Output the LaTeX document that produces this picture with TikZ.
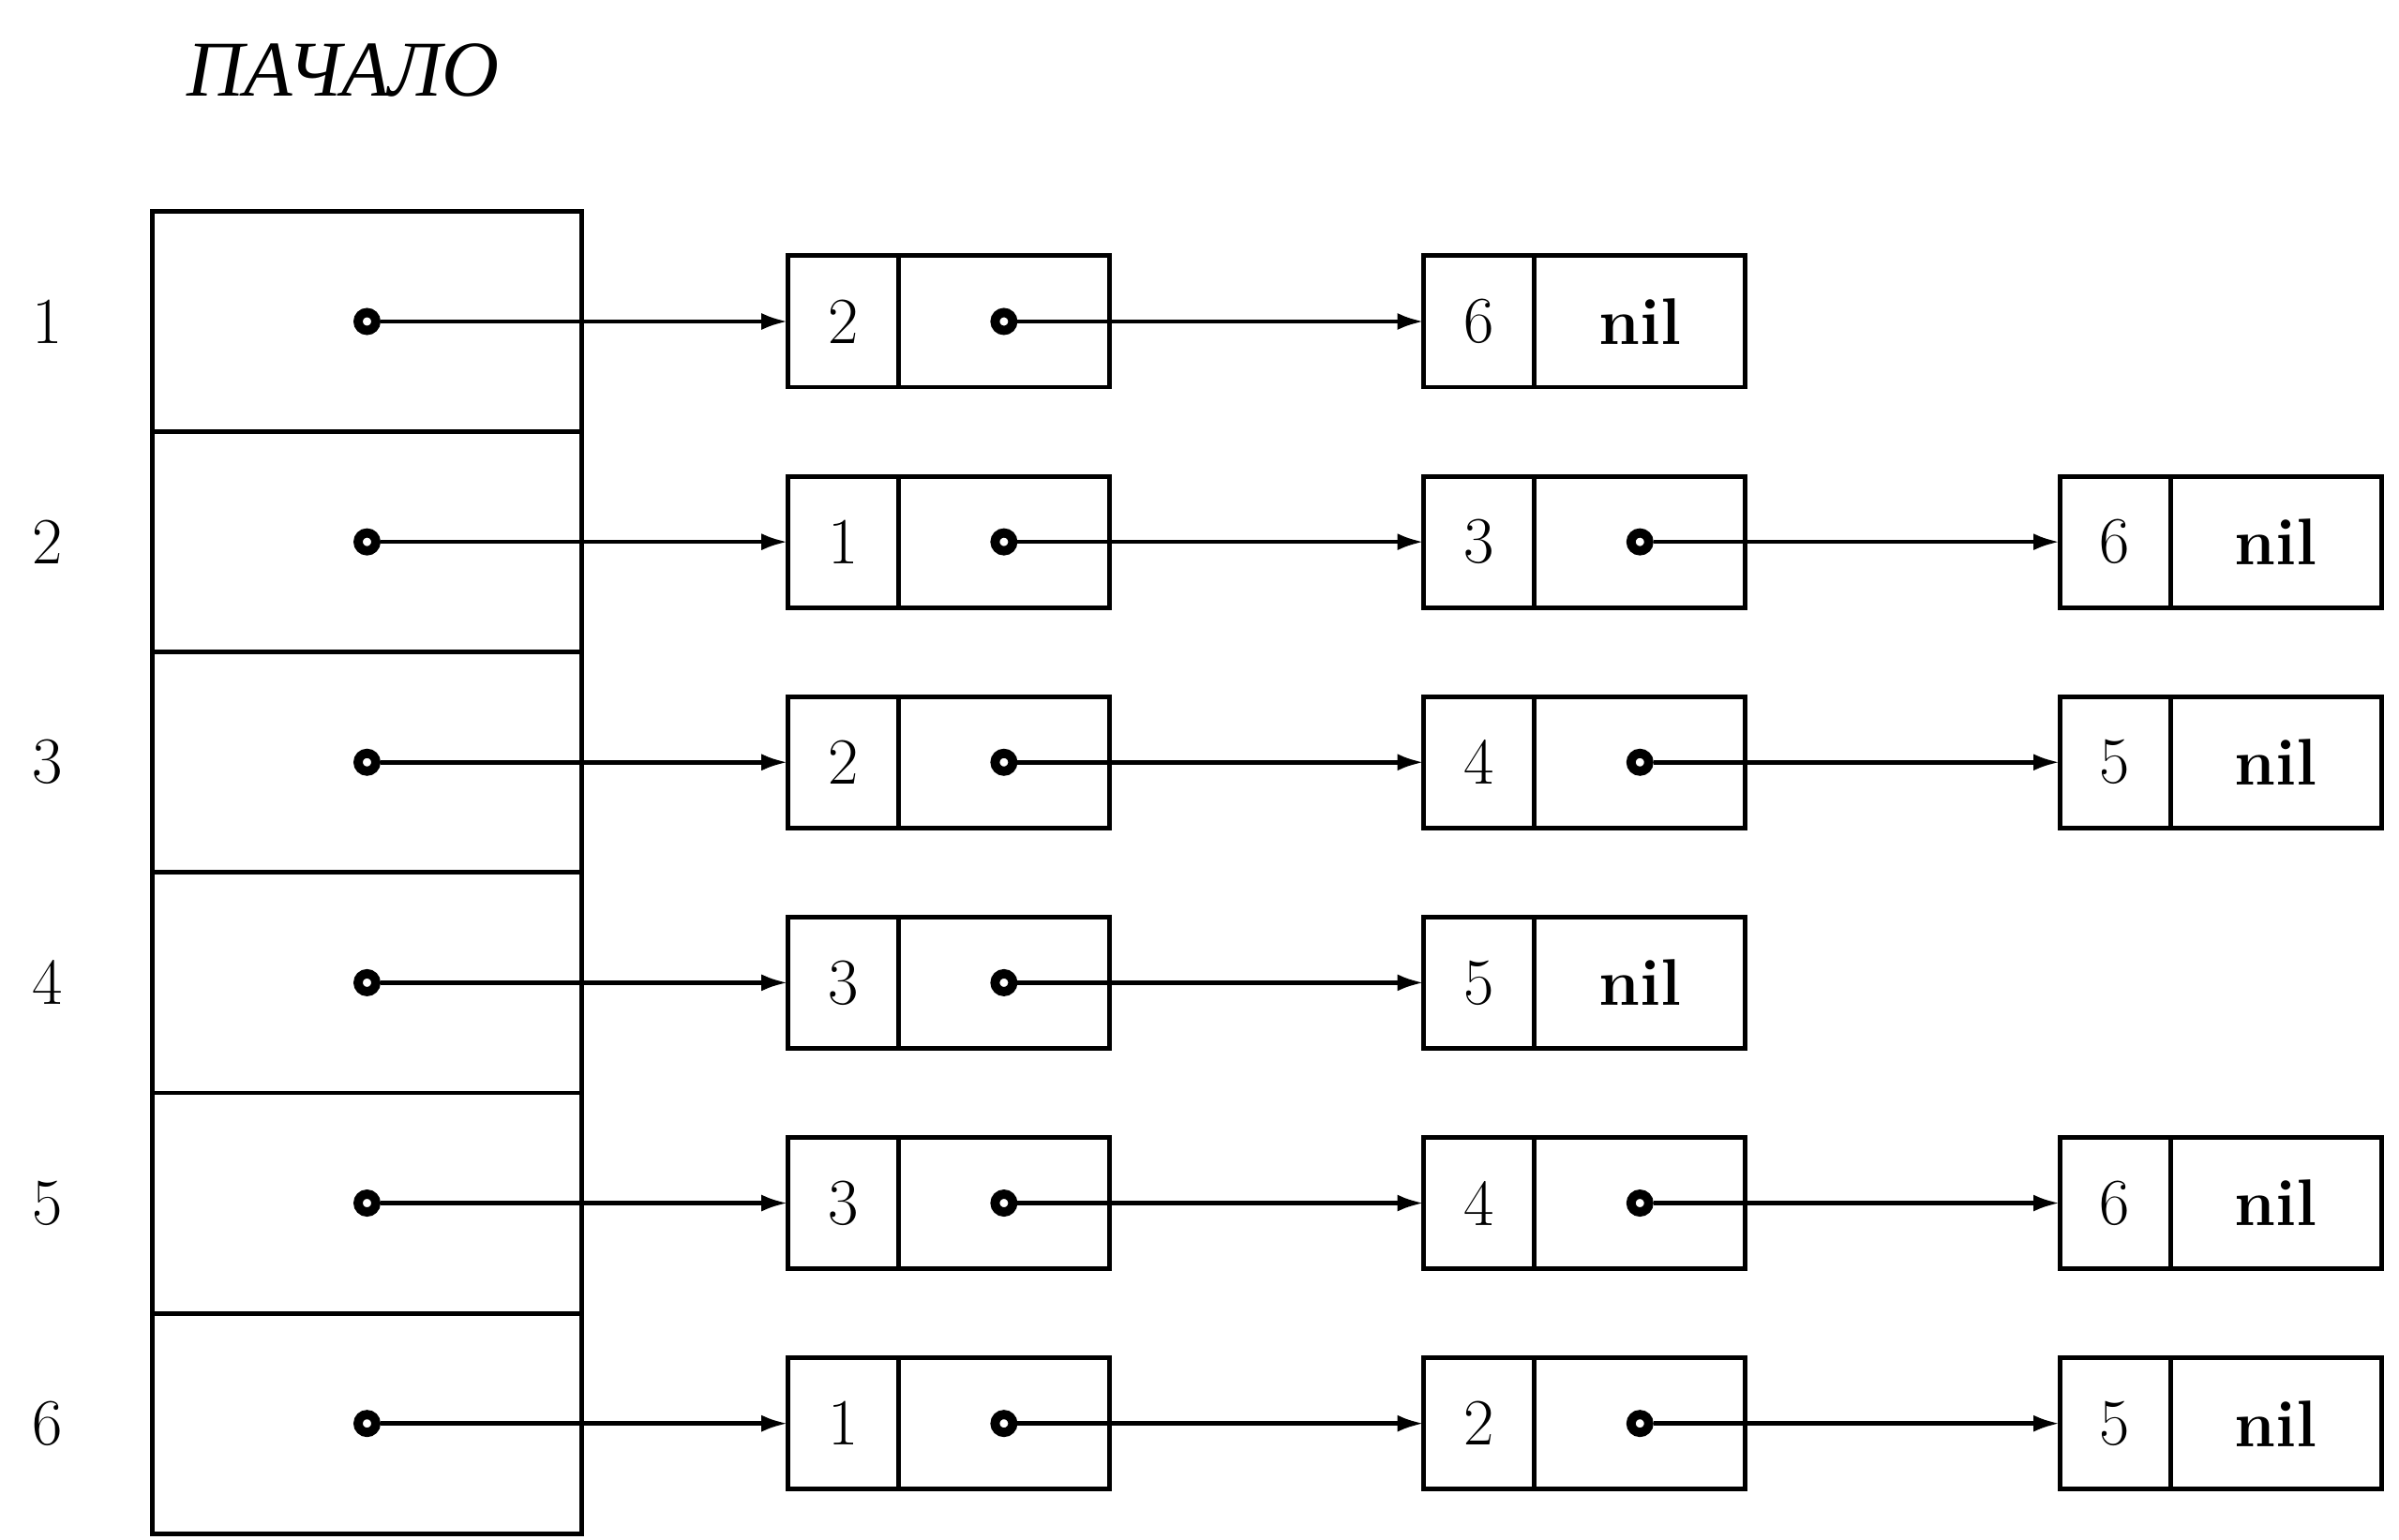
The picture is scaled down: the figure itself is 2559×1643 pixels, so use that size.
\documentclass[tikz,border=0pt]{standalone}
\usepackage{fontspec}
\newfontfamily\cyrfont{Liberation Serif}
\usepackage{tikz}
\usetikzlibrary{arrows.meta,positioning}

\begin{document}
\begin{tikzpicture}[
	x=0.01cm, y=-0.01cm,
	font=\fontsize{20}{24}\selectfont,
	>={Latex[length=0.28cm,width=0.18cm]},
	node distance=0pt,
	lin/.style={rectangle, draw, line width=1.4pt, minimum width=4.57cm, minimum height=2.35cm, inner sep=0pt, outer sep=0pt},
	cel/.style={rectangle, draw, line width=1.4pt, minimum width=1.18cm, minimum height=1.4cm, inner sep=0pt, outer sep=0pt},
	ptr/.style={cel, minimum width=2.25cm},
	pto/.style={circle, draw, line width=2.8pt, fill=white, inner sep=0pt, minimum size=0.19cm},
	lig/.style={->, line width=1.3pt},
	num/.style={inner sep=0pt},
	tit/.style={font=\fontsize{24}{28}\selectfont\cyrfont\itshape},
]
\useasboundingbox (0,0) rectangle (2559,1643);
% Titulo
\node[tit] (tit) at (366,75) {ПАЧАЛО};
% Vetor de entradas
\node[lin] (r1) at (391.5,343) {};
\node[lin] (r2) [below=of r1] {};
\node[lin] (r3) [below=of r2] {};
\node[lin] (r4) [below=of r3] {};
\node[lin] (r5) [below=of r4] {};
\node[lin] (r6) [below=of r5] {};
\node[num] (n1) [left=0.95cm of r1] {1};
\node[num] (n2) [left=0.95cm of r2] {2};
\node[num] (n3) [left=0.95cm of r3] {3};
\node[num] (n4) [left=0.95cm of r4] {4};
\node[num] (n5) [left=0.95cm of r5] {5};
\node[num] (n6) [left=0.95cm of r6] {6};
\node[pto] (p1) at (r1.center) {};
\node[pto] (p2) at (r2.center) {};
\node[pto] (p3) at (r3.center) {};
\node[pto] (p4) at (r4.center) {};
\node[pto] (p5) at (r5.center) {};
\node[pto] (p6) at (r6.center) {};
% Linha 1
\node[cel] (a1) [right=2.2cm of r1] {2};
\node[ptr] (a1p) [right=of a1] {};
\node[pto] (q1) at (a1p.center) {};
\node[cel] (b1) [right=3.35cm of a1p] {6};
\node[ptr] (b1p) [right=of b1] {\textbf{nil}};
\draw[lig] (p1)--(a1); \draw[lig] (q1)--(b1);
% Linha 2
\node[cel] (a2) [right=2.2cm of r2] {1};
\node[ptr] (a2p) [right=of a2] {};
\node[pto] (q2) at (a2p.center) {};
\node[cel] (b2) [right=3.35cm of a2p] {3};
\node[ptr] (b2p) [right=of b2] {};
\node[pto] (s2) at (b2p.center) {};
\node[cel] (c2) [right=3.35cm of b2p] {6};
\node[ptr] (c2p) [right=of c2] {\textbf{nil}};
\draw[lig] (p2)--(a2); \draw[lig] (q2)--(b2); \draw[lig] (s2)--(c2);
% Linha 3
\node[cel] (a3) [right=2.2cm of r3] {2};
\node[ptr] (a3p) [right=of a3] {};
\node[pto] (q3) at (a3p.center) {};
\node[cel] (b3) [right=3.35cm of a3p] {4};
\node[ptr] (b3p) [right=of b3] {};
\node[pto] (s3) at (b3p.center) {};
\node[cel] (c3) [right=3.35cm of b3p] {5};
\node[ptr] (c3p) [right=of c3] {\textbf{nil}};
\draw[lig] (p3)--(a3); \draw[lig] (q3)--(b3); \draw[lig] (s3)--(c3);
% Linha 4
\node[cel] (a4) [right=2.2cm of r4] {3};
\node[ptr] (a4p) [right=of a4] {};
\node[pto] (q4) at (a4p.center) {};
\node[cel] (b4) [right=3.35cm of a4p] {5};
\node[ptr] (b4p) [right=of b4] {\textbf{nil}};
\draw[lig] (p4)--(a4); \draw[lig] (q4)--(b4);
% Linha 5
\node[cel] (a5) [right=2.2cm of r5] {3};
\node[ptr] (a5p) [right=of a5] {};
\node[pto] (q5) at (a5p.center) {};
\node[cel] (b5) [right=3.35cm of a5p] {4};
\node[ptr] (b5p) [right=of b5] {};
\node[pto] (s5) at (b5p.center) {};
\node[cel] (c5) [right=3.35cm of b5p] {6};
\node[ptr] (c5p) [right=of c5] {\textbf{nil}};
\draw[lig] (p5)--(a5); \draw[lig] (q5)--(b5); \draw[lig] (s5)--(c5);
% Linha 6
\node[cel] (a6) [right=2.2cm of r6] {1};
\node[ptr] (a6p) [right=of a6] {};
\node[pto] (q6) at (a6p.center) {};
\node[cel] (b6) [right=3.35cm of a6p] {2};
\node[ptr] (b6p) [right=of b6] {};
\node[pto] (s6) at (b6p.center) {};
\node[cel] (c6) [right=3.35cm of b6p] {5};
\node[ptr] (c6p) [right=of c6] {\textbf{nil}};
\draw[lig] (p6)--(a6); \draw[lig] (q6)--(b6); \draw[lig] (s6)--(c6);
\end{tikzpicture}
\end{document}
